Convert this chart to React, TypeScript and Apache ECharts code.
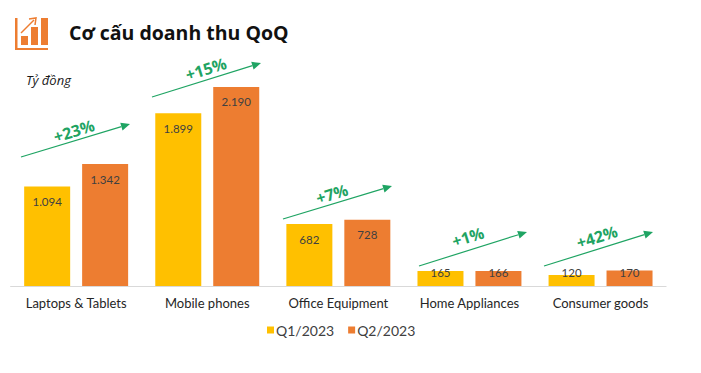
import React, { useEffect, useRef } from "react";
import * as echarts from "echarts";

const categories = ["Laptops & Tablets", "Mobile phones", "Office Equipment", "Home Appliances", "Consumer goods"];
const q1Values = [1094, 1899, 682, 165, 120];
const q2Values = [1342, 2190, 728, 166, 170];
const growthLabels = ["+23%", "+15%", "+7%", "+1%", "+42%"];
const arrowStarts = [[21, 157], [152, 97], [283, 219], [419, 266], [544, 266]];
const arrowEnds = [[130, 124], [261, 63], [392, 186], [527, 232], [653, 232]];
const growthCentres = [[74, 131], [206, 69], [332, 194], [468, 237], [597, 237]];

const GREEN = "#1fa463";
const YELLOW = "#ffc000";
const ORANGE = "#ed7d31";
const FONT = "Lato, 'Open Sans', sans-serif";

const fmt = (v: number) => String(v).replace(/\B(?=(\d{3})+$)/g, ".");

const seriesData = (vals: number[]) =>
  vals.map((v) => ({
    value: v,
    label: v < 200 ? { position: "insideBottom", distance: 8 } : { position: "insideTop", distance: 9 },
  }));

const arrow = (i: number) => {
  const [x1, y1] = arrowStarts[i];
  const [x2, y2] = arrowEnds[i];
  const a = Math.atan2(y2 - y1, x2 - x1);
  const len = 9;
  const w = 4;
  const bx = x2 - len * Math.cos(a);
  const by = y2 - len * Math.sin(a);
  const nx = -Math.sin(a) * w;
  const ny = Math.cos(a) * w;
  return [
    { type: "line", shape: { x1, y1, x2: bx, y2: by }, style: { stroke: GREEN, lineWidth: 1.2 }, silent: true },
    {
      type: "polygon",
      shape: { points: [[x2, y2], [bx + nx, by + ny], [bx - nx, by - ny]] },
      style: { fill: GREEN },
      silent: true,
    },
    {
      type: "text",
      x: growthCentres[i][0],
      y: growthCentres[i][1],
      rotation: 0.3,
      style: {
        text: growthLabels[i],
        fill: GREEN,
        font: `bold 16px 'Open Sans', sans-serif`,
        align: "center",
        verticalAlign: "middle",
      },
      silent: true,
    },
  ];
};

const ICON = "#ed7d31";
const iconElements = [
  { type: "rect", shape: { x: 15, y: 18, width: 2.5, height: 32 }, style: { fill: ICON } },
  { type: "rect", shape: { x: 15, y: 48, width: 33, height: 2 }, style: { fill: ICON } },
  { type: "rect", shape: { x: 21, y: 36, width: 7, height: 9 }, style: { fill: ICON } },
  { type: "rect", shape: { x: 31, y: 27, width: 7, height: 18 }, style: { fill: ICON } },
  { type: "rect", shape: { x: 41, y: 18, width: 7, height: 27 }, style: { fill: ICON } },
  { type: "line", shape: { x1: 21, y1: 33, x2: 34, y2: 20 }, style: { stroke: ICON, lineWidth: 1.5 } },
  { type: "polyline", shape: { points: [[29, 19], [36, 18], [35, 25]] }, style: { stroke: ICON, lineWidth: 1.5, fill: "none" } },
];

export default function App() {
  const ref = useRef<HTMLDivElement>(null);
  useEffect(() => {
    document.body.style.margin = "0";
    const chart = echarts.init(ref.current!, undefined, { renderer: "svg" });
    chart.setOption({
      animation: false,
      backgroundColor: "#ffffff",
      title: {
        text: "Cơ cấu doanh thu QoQ",
        left: 64,
        top: 17,
        textStyle: { fontFamily: "'Open Sans', sans-serif", fontWeight: "bold", fontSize: 19.5, color: "#111111" },
      },
      legend: {
        left: 262,
        top: 318,
        itemWidth: 7,
        itemHeight: 7,
        itemGap: 14,
        icon: "rect",
        textStyle: { fontFamily: FONT, fontSize: 14, color: "#404040", padding: [0, 0, 0, -3] },
        data: ["Q1/2023", "Q2/2023"],
      },
      grid: { left: 10.6, width: 655.5, top: 86, height: 200 },
      xAxis: {
        type: "category",
        data: categories,
        axisTick: { show: false },
        axisLine: { lineStyle: { color: "#d9d9d9", width: 1 } },
        axisLabel: { interval: 0, fontFamily: FONT, fontSize: 13, color: "#262626", margin: 10 },
      },
      yAxis: { type: "value", min: 0, max: 2200, show: false },
      series: [
        {
          name: "Q1/2023",
          type: "bar",
          data: seriesData(q1Values),
          barWidth: 46,
          barGap: "26%",
          itemStyle: { color: YELLOW },
          label: { show: true, formatter: (p: any) => fmt(p.value), fontFamily: FONT, fontSize: 11.5, color: "#404040" },
        },
        {
          name: "Q2/2023",
          type: "bar",
          data: seriesData(q2Values),
          barWidth: 46,
          barGap: "26%",
          itemStyle: { color: ORANGE },
          label: { show: true, formatter: (p: any) => fmt(p.value), fontFamily: FONT, fontSize: 11.5, color: "#404040" },
        },
      ],
      graphic: [
        ...iconElements,
        {
          type: "text",
          x: 26,
          y: 80,
          style: {
            text: "Tỷ đồng",
            font: "italic 13px 'Open Sans', sans-serif",
            fill: "#1a1a1a",
            verticalAlign: "middle",
          },
        },
        ...categories.flatMap((_, i) => arrow(i)),
      ],
    });
    return () => chart.dispose();
  }, []);
  return <div ref={ref} style={{ width: 701, height: 373 }} />;
}
